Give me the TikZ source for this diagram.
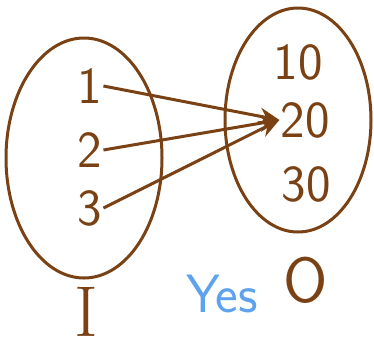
\documentclass[tikz,border=0pt]{standalone}
\usepackage{tikz}
\usetikzlibrary{arrows.meta,positioning,shapes.geometric}
\definecolor{penbrown}{HTML}{7A4214}
\definecolor{penblue}{HTML}{5EA2EE}
\tikzset{
  >={Stealth[length=7mm,width=6mm]},
  % mengder
  setring/.style={ellipse,draw=penbrown,line width=3pt,inner sep=0pt},
  elem/.style={text=penbrown,font=\fontsize{52}{58}\selectfont\sffamily,inner sep=1pt},
  setname/.style={text=penbrown,inner sep=0pt},
  mapto/.style={->,draw=penbrown,line width=3pt},
  note/.style={text=penblue,font=\fontsize{54}{60}\selectfont\sffamily,inner sep=0pt},
}
\begin{document}
\begin{tikzpicture}[x=1pt,y=-1pt]
\useasboundingbox (0,0) rectangle (374,354);
  \node[setring,minimum width=156pt,minimum height=240pt] (dom) at (84,158) {};
  \node[setring,minimum width=146pt,minimum height=224pt] (cod) at (298,120) {};
  \node[elem] (one) at (90,86) {1};
  \node[elem] (two) at (90,150) {2};
  \node[elem] (three) at (90,208) {3};
  \node[elem] (ten) at (298,62) {10};
  \node[elem] (twenty) at (305,120) {20};
  \node[elem] (thirty) at (306,184) {30};
  \node[setname,font=\fontsize{72}{80}\selectfont\rmfamily] (inp) at (86,312) {I};
  \node[setname,font=\fontsize{64}{70}\selectfont\sffamily] (outp) at (306,280) {O};
  \node[note] (yes) at (222,294) {Yes};
  \draw[mapto] (one.east) -- (twenty.west);
  \draw[mapto] (two.east) -- (twenty.west);
  \draw[mapto] (three.east) -- (twenty.west);
\end{tikzpicture}
\end{document}
